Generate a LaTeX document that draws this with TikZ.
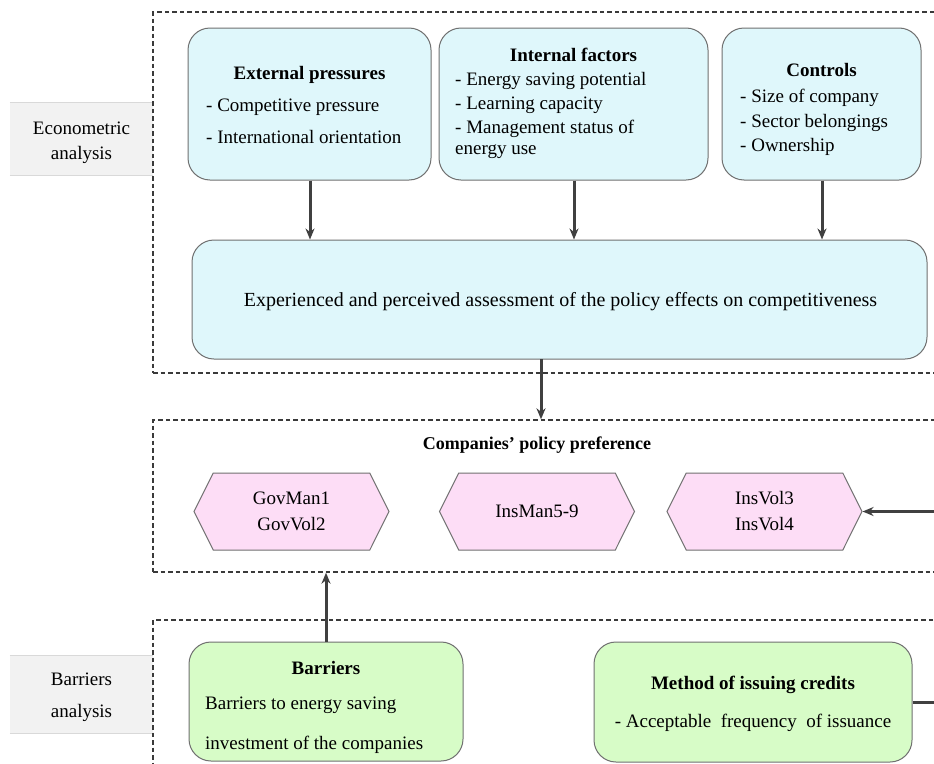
\documentclass[tikz,border=0pt]{standalone}
\usepackage{fontspec}
\setmainfont{LiberationSerif}[Extension=.ttf, UprightFont=*-Regular, BoldFont=*-Bold, ItalicFont=*-Italic, BoldItalicFont=*-BoldItalic]
\usetikzlibrary{arrows.meta,shapes.symbols}
\definecolor{cyanfill}{HTML}{DFF7FB}
\definecolor{pinkfill}{HTML}{FDDDF6}
\definecolor{greenfill}{HTML}{D7FCC7}
\definecolor{boxline}{HTML}{707070}
\definecolor{arrowc}{HTML}{404040}
\definecolor{bandfill}{HTML}{F2F2F2}
\definecolor{bandline}{HTML}{D9D9D9}
\definecolor{dashc}{HTML}{3A3A3A}
\tikzset{
  frame/.style={draw=dashc, line width=1.4pt, dash pattern=on 4.5pt off 3pt, inner sep=0pt},
  rbox/.style={draw=boxline, line width=1pt, rounded corners=22pt, inner sep=0pt},
  cbox/.style={rbox, fill=cyanfill},
  gbox/.style={rbox, fill=greenfill},
  hexa/.style={shape=signal, signal to=east and west, signal pointer angle=127, draw=boxline, line width=1pt, fill=pinkfill, inner sep=0pt, minimum width=195pt, minimum height=77pt, align=center, font=\fontsize{19}{26}\selectfont},
  txt/.style={inner sep=0pt, anchor=west, font=\fontsize{19}{24}\selectfont},
  ctxt/.style={inner sep=0pt, font=\fontsize{19}{24}\selectfont},
  ttl/.style={inner sep=0pt, font=\fontsize{19}{24}\selectfont\bfseries},
  band/.style={fill=bandfill, inner sep=0pt},
  arr/.style={draw=arrowc, line width=3pt, -{Stealth[length=11pt,width=9pt]}},
  conn/.style={draw=arrowc, line width=3pt}
}
\begin{document}
\begin{tikzpicture}[x=1pt,y=-1pt]
\clip (0,0) rectangle (934,763);
\fill[white] (0,0) rectangle (934,763);
\coordinate (R) at (934,0);

% left bands
\node[band, minimum width=143pt, minimum height=72pt] (econband) at (81.5,139) {};
\draw[bandline, line width=0.8pt] (econband.north west) -- (econband.north east);
\draw[bandline, line width=0.8pt] (econband.south west) -- (econband.south east);
\node[ctxt] (econ1) at (81.5,128) {Econometric};
\node[ctxt] (econ2) at (81.5,155) {analysis};

\node[band, minimum width=143pt, minimum height=77pt] (barband) at (81.5,694.5) {};
\draw[bandline, line width=0.8pt] (barband.north west) -- (barband.north east);
\draw[bandline, line width=0.8pt] (barband.south west) -- (barband.south east);
\node[ctxt] (bar1) at (81.5,679) {Barriers};
\node[ctxt] (bar2) at (81.5,713) {analysis};

% dashed frames
\node[frame, minimum width=810pt, minimum height=361pt] (econframe) at (558,192.5) {};
\node[frame, minimum width=810pt, minimum height=152pt] (polframe) at (558,496) {};
\node[frame, minimum width=810pt, minimum height=180pt] (barframe) at (558,710) {};

% top boxes
\node[cbox, minimum width=243pt, minimum height=152pt] (ext) at (309.5,104) {};
\node[ttl] (extT) at (309.5,75) {External pressures};
\node[txt] (ext1) at (206,107) {- Competitive pressure};
\node[txt] (ext2) at (206,137) {- International orientation};

\node[cbox, minimum width=269pt, minimum height=152pt] (int) at (573.5,104) {};
\node[ttl] (intT) at (573.5,55) {Internal factors};
\node[txt] (int1) at (455,81) {- Energy saving potential};
\node[txt] (int2) at (455,105) {- Learning capacity};
\node[txt] (int3) at (455,129) {- Management status of};
\node[txt] (int4) at (455,152) {energy use};

\node[cbox, minimum width=199pt, minimum height=152pt] (ctl) at (821.5,104) {};
\node[ttl] (ctlT) at (821.5,70) {Controls};
\node[txt] (ctl1) at (740,98) {- Size of company};
\node[txt] (ctl2) at (740,123) {- Sector belongings};
\node[txt] (ctl3) at (740,147) {- Ownership};

% big box
\node[cbox, minimum width=735pt, minimum height=119pt] (big) at (559.5,299.5) {};
\node[ctxt, font=\fontsize{20}{24}\selectfont] (bigT) at (560.5,302) {Experienced and perceived assessment of the policy effects on competitiveness};

\draw[arr] (ext.south -| 310,0) -- (big.north -| 310,0);
\draw[arr] (int.south -| 574,0) -- (big.north -| 574,0);
\draw[arr] (ctl.south -| 822,0) -- (big.north -| 822,0);

\coordinate (bigout) at (541,359);
\draw[arr] (bigout) -- (bigout |- polframe.north);

% policy preference
\node[ttl, font=\fontsize{18}{24}\selectfont\bfseries] (polT) at (537,445) {Companies' policy preference};
\node[hexa] (h1) at (291.5,511.5) {GovMan1\\GovVol2};
\node[hexa] (h2) at (537,511.5) {InsMan5-9};
\node[hexa] (h3) at (764.5,511.5) {InsVol3\\InsVol4};
\draw[arr] (h3.east -| R) -- (h3.east);

% barriers section
\node[gbox, minimum width=274pt, minimum height=119pt] (barr) at (326,701.5) {};
\node[ttl] (barrT) at (326,668) {Barriers};
\node[txt] (barr1) at (205,705) {Barriers to energy saving};
\node[txt] (barr2) at (205,745) {investment of the companies};

\node[gbox, minimum width=318pt, minimum height=120pt] (meth) at (753,702) {};
\node[ttl] (methT) at (753,685) {Method of issuing credits};
\node[ctxt] (meth1) at (753,723) {- Acceptable\ \ frequency\ \ of issuance};
\draw[conn] (meth.east) -- (meth.east -| R);

\draw[arr] (barr.north) -- (barr.north |- polframe.south);
\end{tikzpicture}
\end{document}
